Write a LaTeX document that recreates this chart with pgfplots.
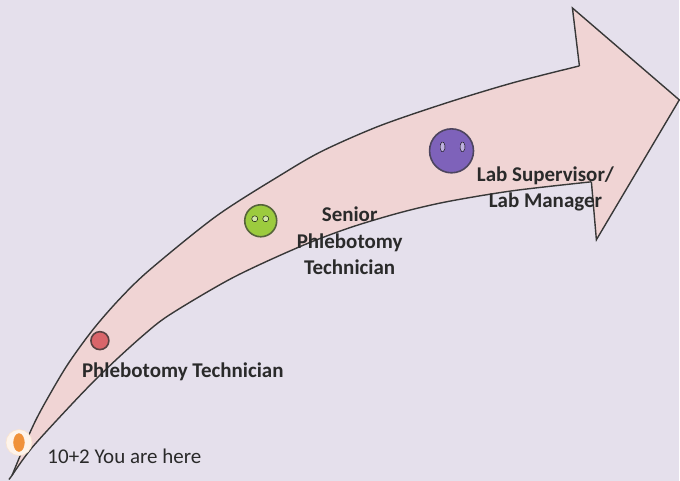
\documentclass[border=0pt]{standalone}
\usepackage{pgfplots}
\pgfplotsset{compat=1.18}
\usepackage{fontspec}
\setmainfont{Carlito}
\definecolor{bg}{HTML}{E5E0EC}
\definecolor{arrowfill}{HTML}{F0D4D4}
\definecolor{edge}{HTML}{383838}
\definecolor{txt}{HTML}{2A2A2A}
\definecolor{cOrange}{HTML}{F0923A}
\definecolor{cRed}{HTML}{D9656A}
\definecolor{cGreen}{HTML}{9CCB3E}
\definecolor{cPurple}{HTML}{7E62BA}
\begin{document}
\begin{tikzpicture}
\begin{axis}[
  width=680pt, height=481pt, scale only axis,
  xmin=0, xmax=680, ymin=0, ymax=481,
  hide axis, clip=false,
]
% background
\addplot[fill=bg, draw=none] coordinates {(0,0) (680,0) (680,481) (0,481)} -- cycle;
% arrow body
\addplot[fill=arrowfill, draw=none] coordinates {
 (12,5) (30,48) (43,74) (67,115) (93,151) (120,182) (150,211) (217,265) (283,307) (323,330)
 (380,355) (447,378) (513,398) (580,415) (573,473) (680,381) (597,241) (592,299)
 (513,290) (447,279) (400,268) (350,253) (300,234) (233,203) (170,166) (143,145) (110,115) (80,85) (33,34)} -- cycle;
\addplot[draw=edge, line width=1.4pt, smooth, tension=0.5] coordinates {
 (12,5) (30,48) (43,74) (67,115) (93,151) (120,182) (150,211) (217,265) (283,307) (323,330)
 (380,355) (447,378) (513,398) (580,415)};
\addplot[draw=edge, line width=1.4pt, sharp plot] coordinates {
 (580,415) (573,473) (680,381) (597,241) (592,299)};
\addplot[draw=edge, line width=1.4pt, smooth, tension=0.5] coordinates {
 (592,299) (513,290) (447,279) (400,268) (350,253) (300,234) (233,203) (170,166) (143,145) (110,115) (80,85) (33,34) (12,5)};
\addplot[draw=edge, line width=1.4pt, sharp plot] coordinates {(12,5) (9,1)};
% milestones
\addplot[only marks, mark=*, mark size=13pt, mark options={fill=white!90!cOrange, draw=white!75!cOrange, line width=0.6pt}] coordinates {(19,38)};
\addplot[only marks, mark=*, mark size=9pt, mark options={fill=cOrange, draw=cOrange, xscale=0.6}] coordinates {(19,38)};
\addplot[only marks, mark=*, mark size=9pt, mark options={fill=cRed, draw=edge!80!cRed, line width=1.6pt}] coordinates {(100,140)};
\addplot[only marks, mark=*, mark size=16pt, mark options={fill=cGreen, draw=edge!70!cGreen, line width=1.6pt}] coordinates {(261,260)};
\addplot[only marks, mark=*, mark size=22pt, mark options={fill=cPurple, draw=edge!70!cPurple, line width=1.6pt}] coordinates {(452,330)};
% highlights
\addplot[only marks, mark=*, mark size=3pt, mark options={fill=white!55!cGreen, draw=none}] coordinates {(255,262) (266,262)};
\addplot[only marks, mark=*, mark size=5pt, mark options={fill=white!50!cPurple, draw=none, xscale=0.5, rotate=-25}] coordinates {(443,334) (463,334)};
% labels
\node[anchor=west, text=txt, font=\fontsize{21}{24}\selectfont] at (axis cs:44,24) {10+2 You are here};
\node[text=txt, font=\fontsize{21}{24}\selectfont\bfseries] at (axis cs:183,109) {Phlebotomy Technician};
\node[text=txt, align=center, font=\fontsize{21}{26.5}\selectfont\bfseries] at (axis cs:350,240) {Senior\\Phlebotomy\\Technician};
\node[text=txt, align=center, font=\fontsize{21}{26}\selectfont\bfseries] at (axis cs:546,292) {Lab Supervisor/\\Lab Manager};
\end{axis}
\end{tikzpicture}
\end{document}
